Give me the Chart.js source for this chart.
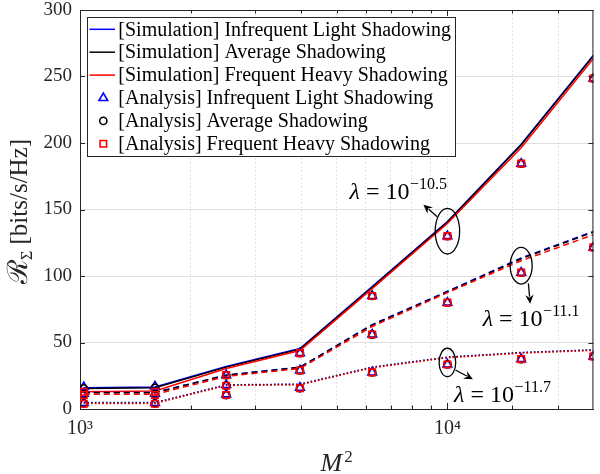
<!DOCTYPE html>
<html><head><meta charset="utf-8">
<script src="https://cdn.jsdelivr.net/npm/chart.js@4.4.1/dist/chart.umd.min.js"></script>
<style>html,body{margin:0;padding:0;background:#fff;}</style>
</head><body>
<canvas id="c" width="600" height="474" style="width:600px;height:474px;display:block"></canvas>
<script>
// ---------------- DATA ----------------
const M2 = [1024, 1600, 2500, 3969, 6241, 10000, 15876, 24964];
const xMin = 1000, xMax = 24964;
const yTickValues = [0, 50, 100, 150, 200, 250, 300];
const xTickLabels = ['10³', '10⁴'];
const legendLabels = [
  '[Simulation] Infrequent Light Shadowing',
  '[Simulation] Average Shadowing',
  '[Simulation] Frequent Heavy Shadowing',
  '[Analysis] Infrequent Light Shadowing',
  '[Analysis] Average Shadowing',
  '[Analysis] Frequent Heavy Shadowing'
];
const lambdaLabels = ['−10.5', '−11.1', '−11.7'];

// lambda = 10^-10.5 (solid)
const simLight_105 = [16, 16.5, 32, 45.5, 92, 141, 199, 266];
const simAvg_105   = [15.5, 16, 31.5, 45, 91.5, 140.5, 198.5, 265.5];
const simHeavy_105 = [13, 13.5, 30.5, 44, 90.5, 139.5, 196.5, 263.5];
const anaLight_105 = [16.5, 17, 25.5, 42, 85, 130, 184.5, 248.5];
const anaAvg_105   = [15.5, 16, 25.5, 42, 85, 130, 184.5, 248.5];
const anaHeavy_105 = [13, 13, 25.5, 42, 85, 130, 184.5, 248.5];
// lambda = 10^-11.1 (dashed)
const simLight_111 = [12.5, 12.5, 25.5, 31.5, 63.5, 88.5, 113.5, 133.5];
const simAvg_111   = [12.3, 12.3, 25.3, 31.3, 63, 88, 113, 133];
const simHeavy_111 = [11, 11, 24.5, 30.5, 62, 87.5, 111.5, 131];
const anaLight_111 = [11.5, 11.5, 18, 29, 56, 80, 102.5, 121.5];
const anaAvg_111   = [11, 11, 17.5, 29, 56, 80, 102.5, 121.5];
const anaHeavy_111 = [10.5, 10.5, 17.5, 29, 56, 80, 102.5, 121.5];
// lambda = 10^-11.7 (dotted)
const simLight_117 = [4.8, 4.8, 18.2, 18.7, 31.5, 39, 42.5, 44.5];
const simAvg_117   = [4.5, 4.5, 18, 18.5, 31.3, 38.8, 42.3, 44.3];
const simHeavy_117 = [4.2, 4.2, 17.7, 18.2, 31, 38.5, 42, 44];
const anaLight_117 = [4.5, 4.5, 11, 16, 27.5, 33.5, 37.5, 39.5];
const anaAvg_117   = [4.3, 4.3, 10.5, 15.6, 27.5, 33.5, 37.5, 39.5];
const anaHeavy_117 = [4, 4, 10.5, 15.6, 27.5, 33.5, 37.5, 39.5];

// ---------------- STYLE ----------------
const BLUE = '#0000ff', BLACK = '#000000', RED = '#ff0000';
const SOLID = [], DASH = [6, 4], DOT = [1.5, 2.2];
const SERIF = '"Liberation Serif", "DejaVu Serif", serif';
const AXC = '#262626';

function pts(ys) { return M2.map((x, i) => ({ x: x, y: ys[i] })); }
function sim(label, ys, color, dash) {
  return { type: 'line', label, data: pts(ys), borderColor: color, backgroundColor: color,
    borderWidth: 1.5, borderDash: dash, pointRadius: 0, pointHoverRadius: 0, fill: false,
    tension: 0, showLine: true };
}
function ana(label, ys, color, style, r) {
  return { type: 'scatter', label, data: pts(ys), borderColor: color, backgroundColor: 'rgba(0,0,0,0)',
    pointStyle: style, pointRadius: r, pointHoverRadius: r, pointBorderWidth: 1.6, borderWidth: 1.6, showLine: false };
}

const datasets = [
  sim(legendLabels[0], simLight_105, BLUE, SOLID),
  sim(legendLabels[1], simAvg_105, BLACK, SOLID),
  sim(legendLabels[2], simHeavy_105, RED, SOLID),
  sim('L111', simLight_111, BLUE, DASH),
  sim('A111', simAvg_111, BLACK, DASH),
  sim('H111', simHeavy_111, RED, DASH),
  sim('L117', simLight_117, BLUE, DOT),
  sim('A117', simAvg_117, BLACK, DOT),
  sim('H117', simHeavy_117, RED, DOT),
  ana(legendLabels[3], anaLight_105, BLUE, 'triangle', 5),
  ana('aL111', anaLight_111, BLUE, 'triangle', 5),
  ana('aL117', anaLight_117, BLUE, 'triangle', 5),
  ana(legendLabels[4], anaAvg_105, BLACK, 'circle', 3.6),
  ana('aA111', anaAvg_111, BLACK, 'circle', 3.6),
  ana('aA117', anaAvg_117, BLACK, 'circle', 3.6),
  ana(legendLabels[5], anaHeavy_105, RED, 'rect', 4.6),
  ana('aH111', anaHeavy_111, RED, 'rect', 4.6),
  ana('aH117', anaHeavy_117, RED, 'rect', 4.6)
];
// later datasets drawn on top (as in the reference)
datasets.forEach((d, i) => { d.order = datasets.length - i; });
const legendDatasetIdx = [0, 1, 2, 9, 12, 15];

// annotation anchors (data coords) for lambda ellipses
const ellipseX = [10000, 15876, 10000];
const ellipseY = [133.7, 107.7, 35];

// ---------------- PLUGINS ----------------
function arrow(ctx, x1, y1, x2, y2) {
  const ang = Math.atan2(y2 - y1, x2 - x1), L = 9, W = 4.2;
  const bx = x2 - L * Math.cos(ang), by = y2 - L * Math.sin(ang);
  ctx.beginPath(); ctx.moveTo(x1, y1); ctx.lineTo(bx + 2 * Math.cos(ang), by + 2 * Math.sin(ang)); ctx.stroke();
  const nx = -Math.sin(ang), ny = Math.cos(ang);
  ctx.beginPath();
  ctx.moveTo(x2, y2);
  ctx.lineTo(bx + nx * W, by + ny * W);
  ctx.lineTo(bx + 3 * Math.cos(ang), by + 3 * Math.sin(ang));
  ctx.lineTo(bx - nx * W, by - ny * W);
  ctx.closePath(); ctx.fill();
}

const decor = {
  id: 'decor',
  afterDatasetsDraw(chart) {
    const ctx = chart.ctx, a = chart.chartArea;
    const xs = chart.scales.x, ys = chart.scales.y;
    ctx.save();
    // box top / right
    ctx.strokeStyle = AXC; ctx.lineWidth = 1; ctx.setLineDash([]);
    ctx.beginPath();
    ctx.moveTo(a.left, a.top + 0.5); ctx.lineTo(a.right, a.top + 0.5);
    ctx.moveTo(a.right - 0.5, a.top); ctx.lineTo(a.right - 0.5, a.bottom);
    ctx.stroke();
    // inward ticks
    ctx.beginPath();
    yTickValues.forEach(v => {
      const y = Math.round(ys.getPixelForValue(v)) + 0.5;
      ctx.moveTo(a.left, y); ctx.lineTo(a.left + 5, y);
      ctx.moveTo(a.right, y); ctx.lineTo(a.right - 5, y);
    });
    xs.ticks.forEach(t => {
      if (t.value > xs.max - 1) return;
      const x = Math.round(xs.getPixelForValue(t.value)) + 0.5;
      const major = Math.abs(Math.log10(t.value) - Math.round(Math.log10(t.value))) < 1e-6;
      const len = major ? 6 : 3.5;
      ctx.moveTo(x, a.bottom); ctx.lineTo(x, a.bottom - len);
      ctx.moveTo(x, a.top); ctx.lineTo(x, a.top + len);
    });
    ctx.stroke();

    // lambda annotations
    const ell = [
      { rx: 12.2, ry: 22.8, a1: [-10.2, -14.5], a2: [-24, -26.5], t: [-97.8, -31.7] },
      { rx: 11, ry: 18.3, a1: [7.2, 17.5], a2: [9, 38], t: [-38.5, 60.2] },
      { rx: 8.3, ry: 14.2, a1: [8, 7.5], a2: [25.5, 16.8], t: [6.7, 39.5] }
    ];
    ctx.strokeStyle = '#000'; ctx.fillStyle = '#000'; ctx.lineWidth = 1.3;
    ell.forEach((e, i) => {
      const cx = xs.getPixelForValue(ellipseX[i]), cy = ys.getPixelForValue(ellipseY[i]);
      ctx.beginPath(); ctx.ellipse(cx, cy, e.rx, e.ry, 0, 0, 2 * Math.PI); ctx.stroke();
      arrow(ctx, cx + e.a1[0], cy + e.a1[1], cx + e.a2[0], cy + e.a2[1]);
      let tx = cx + e.t[0], ty = cy + e.t[1];
      ctx.textBaseline = 'alphabetic'; ctx.textAlign = 'left';
      ctx.font = 'italic 24px ' + SERIF; ctx.fillText('λ', tx, ty); tx += ctx.measureText('λ').width;
      ctx.font = '24px ' + SERIF; const s = ' = 10'; ctx.fillText(s, tx, ty); tx += ctx.measureText(s).width;
      ctx.font = '16px ' + SERIF; ctx.fillText(lambdaLabels[i], tx + 0.5, ty - 10);
    });

    // legend
    const L = { left: 87.5, top: 17.5, right: 455.5, bottom: 156.5, row0: 29.3, dy: 22.9 };
    ctx.fillStyle = '#fff'; ctx.fillRect(L.left, L.top, L.right - L.left, L.bottom - L.top);
    ctx.strokeStyle = AXC; ctx.lineWidth = 1; ctx.setLineDash([]);
    ctx.strokeRect(L.left, L.top, L.right - L.left, L.bottom - L.top);
    legendDatasetIdx.forEach((di, r) => {
      const ds = chart.data.datasets[di];
      const y = L.row0 + r * L.dy;
      if (ds.type === 'line') {
        ctx.strokeStyle = ds.borderColor; ctx.lineWidth = 1.5; ctx.setLineDash([]);
        ctx.beginPath(); ctx.moveTo(89.5, y); ctx.lineTo(115, y); ctx.stroke();
      } else {
        ctx.save();
        ctx.strokeStyle = ds.borderColor; ctx.fillStyle = 'rgba(0,0,0,0)'; ctx.lineWidth = 1.6;
        Chart.helpers.drawPoint(ctx, { pointStyle: ds.pointStyle, radius: ds.pointRadius, borderWidth: 1.6 }, 103.3, y);
        ctx.restore();
      }
      ctx.fillStyle = '#000'; ctx.font = '20px ' + SERIF; ctx.textBaseline = 'middle'; ctx.textAlign = 'left';
      ctx.fillText(ds.label, 118.3, y + 1);
    });
    ctx.restore();
  },
  afterDraw(chart) {
    const ctx = chart.ctx, a = chart.chartArea;
    ctx.save();
    ctx.fillStyle = AXC; ctx.textBaseline = 'alphabetic'; ctx.textAlign = 'left';
    // x title: M^2
    ctx.font = 'italic 26px ' + SERIF;
    const wM = ctx.measureText('M').width;
    ctx.font = '17px ' + SERIF;
    const w2 = ctx.measureText('2').width;
    let x0 = (a.left + a.right) / 2 - (wM + w2 + 2) / 2;
    ctx.font = 'italic 26px ' + SERIF; ctx.fillText('M', x0, 471);
    ctx.font = '17px ' + SERIF; ctx.fillText('2', x0 + wM + 2, 462);
    // y title: R_Sigma [bits/s/Hz]
    ctx.translate(27, (a.top + a.bottom) / 2 + 2);
    ctx.rotate(-Math.PI / 2);
    const fR = '28px "DejaVu Serif", ' + SERIF, fS = '16px ' + SERIF, fT = '25px ' + SERIF;
    ctx.font = fR; const wR = ctx.measureText('ℛ').width;
    ctx.font = fS; const wS = ctx.measureText('Σ').width;
    const txt = ' [bits/s/Hz]';
    ctx.font = fT; const wT = ctx.measureText(txt).width;
    let p = -(wR + wS + wT) / 2;
    ctx.font = fR; ctx.fillText('ℛ', p, 0); p += wR;
    ctx.font = fS; ctx.fillText('Σ', p, 5); p += wS;
    ctx.font = fT; ctx.fillText(txt, p, 0);
    ctx.restore();
  }
};

new Chart(document.getElementById('c'), {
  type: 'scatter',
  data: { datasets },
  options: {
    responsive: false, animation: false, devicePixelRatio: 1,
    layout: { padding: { top: 10, right: 2, left: 0, bottom: 0 } },
    plugins: { legend: { display: false }, tooltip: { enabled: false } },
    scales: {
      x: {
        type: 'logarithmic', min: xMin, max: xMax,
        afterFit(s) { s.height = 65; s.paddingLeft = 0; s.paddingRight = 0; },
        border: { display: true, color: AXC, width: 1, dash: [1.5, 2.5] },
        grid: { color: '#d8d8d8', lineWidth: 1, drawTicks: false },
        ticks: {
          autoSkip: false, maxRotation: 0, padding: 8, color: AXC,
          font: { family: SERIF, size: 20 },
          callback(v) {
            const l = Math.log10(v);
            if (Math.abs(l - 3) < 1e-6) return xTickLabels[0];
            if (Math.abs(l - 4) < 1e-6) return xTickLabels[1];
            return '';
          }
        }
      },
      y: {
        min: 0, max: 300,
        afterFit(s) { s.width = 80; s.paddingTop = 0; s.paddingBottom = 0; },
        border: { display: true, color: AXC, width: 1 },
        grid: { color: '#dedede', lineWidth: 1, drawTicks: false },
        ticks: { stepSize: 50, padding: 8, color: AXC, font: { family: SERIF, size: 19 } }
      }
    }
  },
  plugins: [decor]
});
</script>
</body></html>
